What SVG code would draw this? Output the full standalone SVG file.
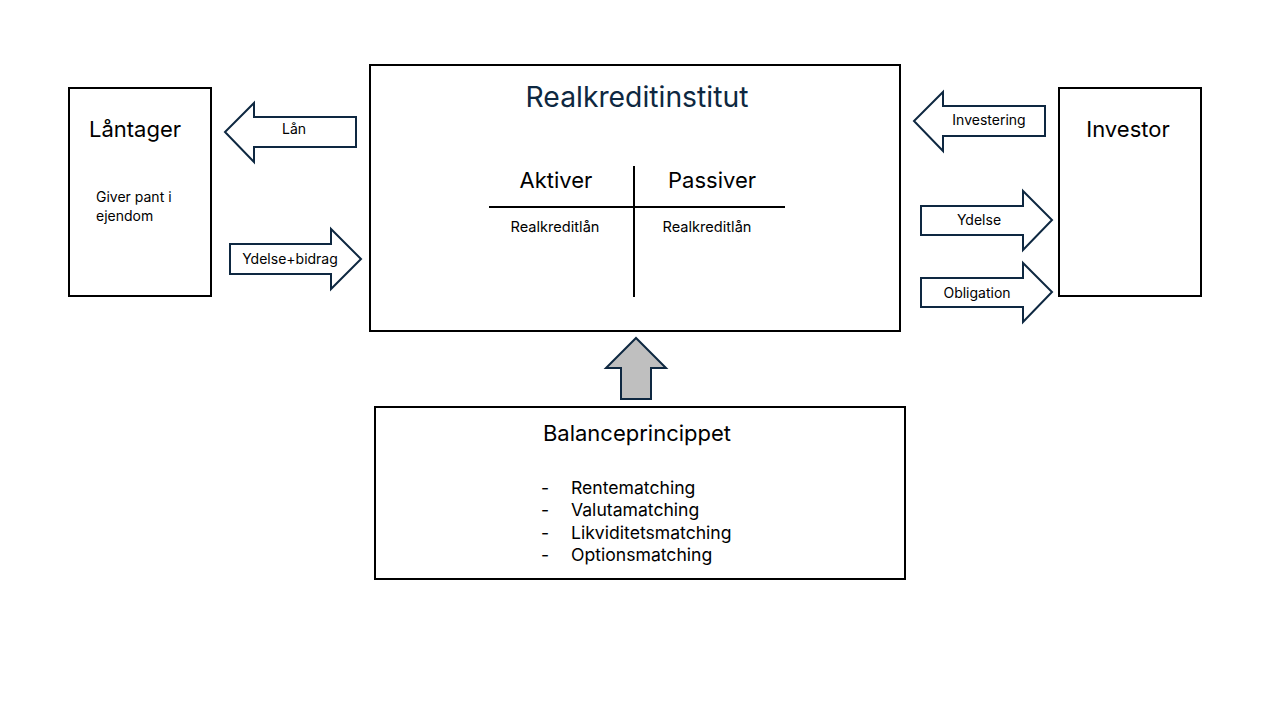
<svg xmlns="http://www.w3.org/2000/svg" width="1280" height="720" viewBox="0 0 1280 720">
<style>
.box{fill:#fff;stroke:#000;stroke-width:2}
.arr{fill:#fff;stroke:#0E2841;stroke-width:2;stroke-linejoin:miter}
.t{font-family:Inter,"Liberation Sans",sans-serif;fill:#000}
.big{font-size:22px}
.sm{font-size:14px}
.line{stroke:#000;stroke-width:2}
</style>
<rect width="1280" height="720" fill="#fff"/>
<g id="laantager">
<rect class="box" x="69" y="88" width="142" height="208"/>
<text class="t big" x="135" y="137" text-anchor="middle">Låntager</text>
<text class="t" x="96" y="202" font-size="14">Giver pant i</text>
<text class="t" x="96" y="221" font-size="14">ejendom</text>
</g>
<g id="realkreditinstitut">
<rect class="box" x="370" y="65" width="530" height="266"/>
<text class="t" x="637" y="107" font-size="28.3" text-anchor="middle" style="fill:#0E2841">Realkreditinstitut</text>
<line class="line" x1="489" y1="207" x2="785" y2="207"/>
<line class="line" x1="634" y1="166" x2="634" y2="297"/>
<text class="t big" x="556" y="188" text-anchor="middle">Aktiver</text>
<text class="t big" x="712" y="188" text-anchor="middle">Passiver</text>
<text class="t" font-size="14.6" x="555" y="232" text-anchor="middle">Realkreditlån</text>
<text class="t" font-size="14.6" x="707" y="232" text-anchor="middle">Realkreditlån</text>
</g>
<g id="investor">
<rect class="box" x="1059" y="88" width="142" height="208"/>
<text class="t big" x="1128" y="137" text-anchor="middle">Investor</text>
</g>
<g id="balanceprincippet">
<rect class="box" x="375" y="407" width="530" height="172"/>
<text class="t big" x="637" y="441" text-anchor="middle">Balanceprincippet</text>
<g class="t" font-size="17.6">
<text x="541" y="494">-</text><text x="571" y="494">Rentematching</text>
<text x="541" y="516">-</text><text x="571" y="516">Valutamatching</text>
<text x="541" y="539">-</text><text x="571" y="539">Likviditetsmatching</text>
<text x="541" y="561">-</text><text x="571" y="561">Optionsmatching</text>
</g>
</g>
<g id="connectors">
<g id="arrow-laan">
<polygon class="arr" points="356,117 254,117 254,103 225,132 254,162 254,147 356,147"/>
<text class="t sm" x="294" y="134" text-anchor="middle">Lån</text>
</g>
<g id="arrow-ydelse-bidrag">
<polygon class="arr" points="230,244 331,244 331,229 361,259 331,289 331,274 230,274"/>
<text class="t sm" x="290" y="264" text-anchor="middle">Ydelse+bidrag</text>
</g>
<g id="arrow-investering">
<polygon class="arr" points="1045,106 943,106 943,92 914,121 943,151 943,136 1045,136"/>
<text class="t sm" x="989" y="125" text-anchor="middle">Investering</text>
</g>
<g id="arrow-ydelse">
<polygon class="arr" points="921,206 1023,206 1023,191 1052,220 1023,250 1023,235 921,235"/>
<text class="t sm" x="979" y="225" text-anchor="middle">Ydelse</text>
</g>
<g id="arrow-obligation">
<polygon class="arr" points="921,278 1023,278 1023,263 1052,292 1023,322 1023,307 921,307"/>
<text class="t sm" x="977" y="298" text-anchor="middle">Obligation</text>
</g>
<g id="arrow-up">
<polygon class="arr" style="fill:#BFBFBF" points="621,399 621,368 606,368 636,338 666,368 651,368 651,399"/>
</g>
</g>
</svg>
